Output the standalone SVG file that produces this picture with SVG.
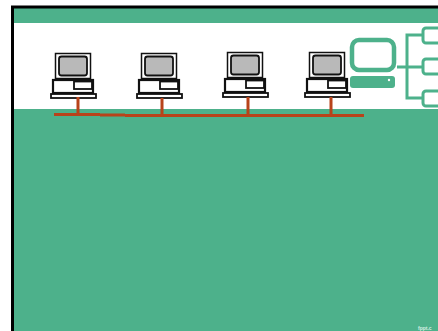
<svg xmlns="http://www.w3.org/2000/svg" width="438" height="331" viewBox="0 0 438 331">
<style>
.m{fill:#fff;stroke:#111;stroke-width:1.5}
.s{fill:#b9b9b9;stroke:#111;stroke-width:1.8}
.b{fill:#fff;stroke:#111;stroke-width:2.200}
.k{fill:#fff;stroke:#111;stroke-width:1.800}
.r{stroke:#b8431a;stroke-width:3;fill:none}
.g{fill:none;stroke:#4db18b;stroke-width:3}
.t{fill:none;stroke:#4db18b;stroke-width:4.500}
</style>
<defs>
<g id="pc">
<rect class="m" x="0.500" y="0.500" width="35" height="25"/>
<rect class="s" x="4" y="3.500" width="28" height="19" rx="2.500"/>
<rect class="b" x="-2" y="27" width="40" height="13"/>
<rect class="k" x="19" y="28.500" width="18" height="7.500"/>
<rect class="k" x="-4" y="41" width="45" height="4"/>
</g>
</defs>
<rect width="438" height="331" fill="#fff"/>
<rect x="12.500" y="7" width="427" height="326" fill="#4db18b" stroke="#000" stroke-width="3"/>
<rect x="14" y="23" width="424" height="86" fill="#fff"/>
<g id="node1"><use href="#pc" x="55" y="53"/></g>
<g id="node2"><use href="#pc" x="141" y="53"/></g>
<g id="node3"><use href="#pc" x="227" y="52"/></g>
<g id="node4"><use href="#pc" x="309" y="52"/></g>
<g id="connectors">
<path class="r" d="M78 97V116M162 98V116M248 97V116M331 97V116"/>
<path class="r" d="M54 114.500H100M125 115.500H364M100 115H125"/>
</g>
<g id="logo">
<rect class="t" x="352" y="40" width="42" height="30" rx="7"/>
<rect x="350" y="76" width="45" height="12" rx="3" fill="#4db18b"/>
<circle cx="389" cy="80" r="1.200" fill="#fff"/>
<path class="g" d="M397 67H407M422 35H407V98H422M407 67H422"/>
<rect class="g" x="423" y="28" width="20" height="15" rx="3"/>
<rect class="g" x="423" y="59" width="20" height="15" rx="3"/>
<rect class="g" x="423" y="91" width="20" height="15" rx="3"/>
</g>
<text x="418" y="330" font-family="Liberation Sans, sans-serif" font-size="5" font-weight="700" fill="#d5efe4">fppt.c</text>
</svg>
